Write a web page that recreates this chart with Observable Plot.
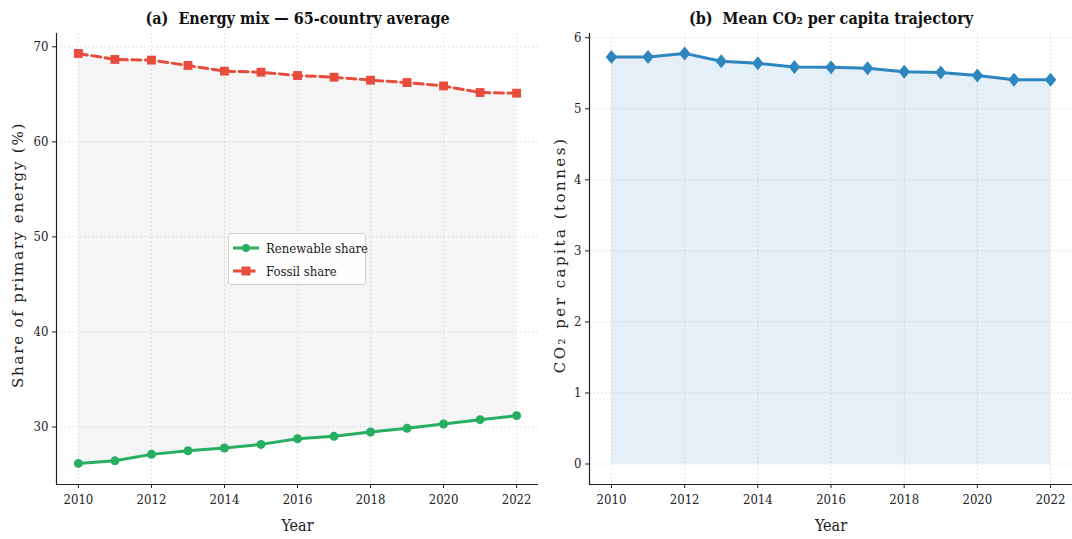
<!DOCTYPE html>
<html><head><meta charset="utf-8">
<script src="https://cdn.jsdelivr.net/npm/d3@7"></script>
<script src="https://cdn.jsdelivr.net/npm/@observablehq/plot@0.6"></script>
<style>
html,body{margin:0;padding:0;background:#fff;}
#wrap{position:relative;width:1072px;height:539px;display:flex;}
svg{font-family:"DejaVu Serif Condensed",serif;}
.lg{position:absolute;left:228px;top:233px;width:136px;height:50px;border:1px solid #d0d0d0;border-radius:3px;background:rgba(255,255,255,0.85);font-family:"DejaVu Serif Condensed",serif;font-size:13px;color:#222;white-space:nowrap;}
.lg .row{position:absolute;left:4px;height:18px;display:flex;align-items:center;}
.lg svg{margin-right:7px;}
</style></head><body>
<div id="wrap"></div>
<script>
const years = [2010,2011,2012,2013,2014,2015,2016,2017,2018,2019,2020,2021,2022];
const renewable = [26.17,26.44,27.12,27.50,27.79,28.17,28.76,29.02,29.47,29.86,30.32,30.77,31.19];
const fossil = [69.30,68.67,68.60,68.04,67.44,67.33,66.98,66.80,66.49,66.24,65.88,65.19,65.12];
const co2 = [5.73,5.73,5.78,5.67,5.64,5.59,5.585,5.57,5.52,5.51,5.47,5.41,5.41];
const xTicks = [2010,2012,2014,2016,2018,2020,2022];
const yTicksA = [30,40,50,60,70];
const yTicksB = [0,1,2,3,4,5,6];
const titleA = "(a)  Energy mix — 65-country average";
const titleB = "(b)  Mean CO₂ per capita trajectory";
const ylabA = "Share of primary energy (%)";
const ylabB = "CO₂ per capita (tonnes)";
const legendLabels = ["Renewable share","Fossil share"];

const GREEN = "#27ae60", RED = "#e74c3c", BLUE = "#2e86c1";
const rowsA = years.map((y,i)=>({year:y, ren:renewable[i], fos:fossil[i]}));
const rowsB = years.map((y,i)=>({year:y, co2:co2[i]}));
const grid = {stroke:"#cfcfcf", strokeOpacity:1, strokeWidth:0.7, strokeDasharray:"1.5,2.5"};

const tallDiamond = {
  draw(ctx, size){
    const s = Math.sqrt(size/Math.PI);
    const w = s*0.82;
    ctx.moveTo(0,-s); ctx.lineTo(w,0); ctx.lineTo(0,s); ctx.lineTo(-w,0); ctx.closePath();
  }
};

function common(opts){
  const {width, ml, mr, ydom, yticks, title, ylab, yoff, ls, marks} = opts;
  const p = Plot.plot({
    width, height:539, marginLeft:ml, marginRight:mr, marginTop:33, marginBottom:55,
    style:{fontSize:"13px", color:"#222", background:"transparent"},
    x:{domain:[2009.4,2022.6]},
    y:{domain:ydom},
    marks:[
      Plot.gridX(xTicks, grid),
      Plot.gridY(yticks, grid),
      ...marks,
      Plot.ruleX([2009.4], {stroke:"#222", strokeWidth:1.2}),
      Plot.ruleY([ydom[0]], {stroke:"#222", strokeWidth:1.2}),
      Plot.axisX(xTicks, {tickSize:4, tickPadding:6, tickFormat:d=>String(d), label:null, fontSize:13, stroke:"#222"}),
      Plot.axisY(yticks, {tickSize:4, tickPadding:4, tickFormat:d=>String(d), label:null, fontSize:13, stroke:"#222"}),
      Plot.text([title], {frameAnchor:"top", dy:-21, fontSize:16, fontWeight:"bold", fill:"#111"}),
      Plot.text(["Year"], {frameAnchor:"bottom", dy:46, fontSize:16, fill:"#222"}),
      Plot.text([ylab], {frameAnchor:"left", dx:-yoff, dy:-4, rotate:-90, textAnchor:"middle", lineAnchor:"middle", fontSize:15, fill:"#222", fontFamily:"DejaVu Serif"})
    ]
  });
  d3.select(p).selectAll("text").filter(function(){ return this.textContent === ylab; })
    .style("letter-spacing", ls + "px");
  return p;
}

const plotA = common({
  width:540, ml:56, mr:2, ydom:[23.95,71.4], yticks:yTicksA, title:titleA, ylab:ylabA, yoff:38, ls:1.8,
  marks:[
    Plot.areaY(rowsA, {x:"year", y1:"ren", y2:"fos", fill:"#a0a0a0", fillOpacity:0.11}),
    Plot.line(rowsA, {x:"year", y:"ren", stroke:GREEN, strokeWidth:3}),
    Plot.dot(rowsA, {x:"year", y:"ren", fill:GREEN, r:4.5, symbol:"circle"}),
    Plot.line(rowsA, {x:"year", y:"fos", stroke:RED, strokeWidth:3, strokeDasharray:"9,4.5"}),
    Plot.dot(rowsA, {x:"year", y:"fos", fill:RED, r:5, symbol:"square"})
  ]
});
const plotB = common({
  width:532, ml:49, mr:0, ydom:[-0.2885,6.06], yticks:yTicksB, title:titleB, ylab:ylabB, yoff:29, ls:2.5,
  marks:[
    Plot.areaY(rowsB, {x:"year", y1:0, y2:"co2", fill:BLUE, fillOpacity:0.13}),
    Plot.line(rowsB, {x:"year", y:"co2", stroke:BLUE, strokeWidth:3}),
    Plot.dot(rowsB, {x:"year", y:"co2", fill:BLUE, r:7, symbol:tallDiamond})
  ]
});
const wrap = document.getElementById("wrap");
wrap.appendChild(plotA);
wrap.appendChild(plotB);

const lg = document.createElement("div");
lg.className = "lg";
legendLabels.forEach((t,i)=>{
  const row = document.createElement("div");
  row.className = "row";
  row.style.top = (5 + i*23) + "px";
  const icon = i===0
    ? `<svg width="26" height="12"><line x1="0" y1="6" x2="26" y2="6" stroke="${GREEN}" stroke-width="3"/><circle cx="13" cy="6" r="4" fill="${GREEN}"/></svg>`
    : `<svg width="26" height="12"><line x1="0" y1="6" x2="26" y2="6" stroke="${RED}" stroke-width="3" stroke-dasharray="9,4.5"/><rect x="8.5" y="1.5" width="9" height="9" fill="${RED}"/></svg>`;
  row.innerHTML = icon + `<span>${t}</span>`;
  lg.appendChild(row);
});
wrap.appendChild(lg);
</script>
</body></html>
